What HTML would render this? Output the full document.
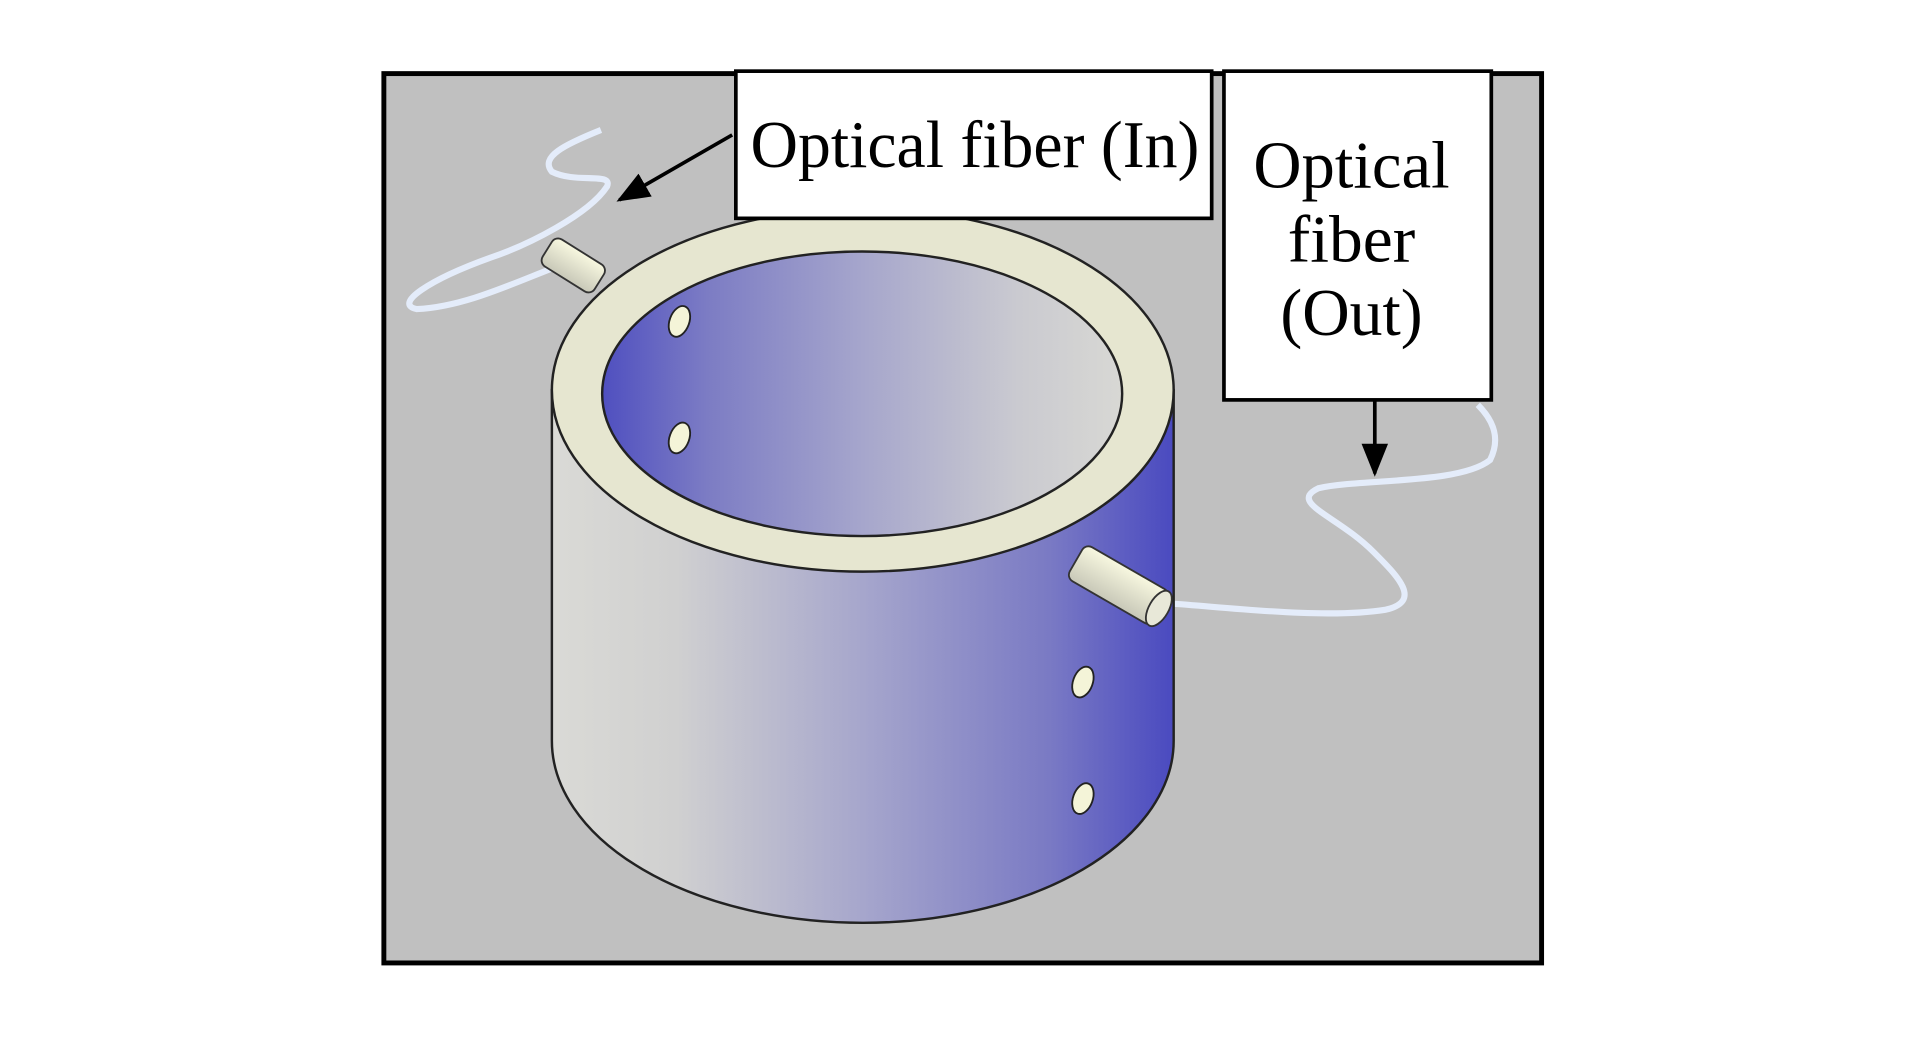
<!DOCTYPE html>
<html><head><meta charset="utf-8"><style>html,body{margin:0;padding:0;background:#fff}svg{display:block}</style></head>
<body>
<svg width="1923" height="1039" viewBox="0 0 1568 847" preserveAspectRatio="none" xmlns="http://www.w3.org/2000/svg">
<defs>
<linearGradient id="body" x1="450" y1="0" x2="957" y2="0" gradientUnits="userSpaceOnUse">
<stop offset="0" stop-color="#dadad6"/><stop offset="0.2" stop-color="#d0d0d0"/><stop offset="0.5" stop-color="#a6a6cc"/><stop offset="0.8" stop-color="#7a7ac4"/><stop offset="1" stop-color="#4a4ac0"/></linearGradient>
<linearGradient id="inner" x1="492" y1="0" x2="915" y2="0" gradientUnits="userSpaceOnUse">
<stop offset="0" stop-color="#5050c0"/><stop offset="0.2" stop-color="#7c7cc4"/><stop offset="0.5" stop-color="#a6a6cc"/><stop offset="0.8" stop-color="#cacad0"/><stop offset="1" stop-color="#d8d8d4"/></linearGradient>
<linearGradient id="pin" x1="0" y1="0" x2="0" y2="1"><stop offset="0" stop-color="#f8f8e0"/><stop offset="1" stop-color="#c8c8b8"/></linearGradient>
<marker id="ah" viewBox="0 0 10 10" refX="9" refY="5" markerWidth="9" markerHeight="9" orient="auto"><path d="M0,1 L10,5 L0,9 z" fill="#000"/></marker>
</defs>
<rect x="313" y="60" width="944" height="725" fill="#c0c0c0" stroke="#000" stroke-width="4"/>
<path d="M490,106 C460,118 440,128 450,140 C470,150 500,140 495,152 C480,175 430,200 400,210 C350,228 320,248 340,252 C380,250 420,230 460,215" fill="none" stroke="#e4ecfa" stroke-width="5"/>
<path d="M955,492 C1000,495 1080,505 1130,497 C1160,490 1140,470 1120,450 C1090,420 1050,410 1075,398 C1110,390 1190,395 1215,375 C1225,355 1215,340 1205,330" fill="none" stroke="#e4ecfa" stroke-width="5"/>
<path d="M450,318 L450,604 A253,148 0 0 0 957,604 L957,318 Z" fill="url(#body)" stroke="#222" stroke-width="2"/>
<ellipse cx="703.5" cy="318" rx="253.5" ry="148" fill="#e6e6d0" stroke="#222" stroke-width="2"/>
<ellipse cx="703" cy="321" rx="212" ry="116" fill="url(#inner)" stroke="#222" stroke-width="2"/>
<g transform="translate(470,218) rotate(32)"><rect x="-28" y="-13" width="50" height="26" rx="6" fill="url(#pin)" stroke="#333" stroke-width="1.5"/></g>
<g transform="translate(912,477) rotate(30)"><rect x="-40" y="-16" width="80" height="32" rx="6" fill="url(#pin)" stroke="#333" stroke-width="1.5"/><ellipse cx="38" cy="0" rx="8" ry="16" fill="#e8e8d8" stroke="#333" stroke-width="1.5"/></g>
<ellipse cx="554" cy="262" rx="8" ry="13" transform="rotate(20 554 262)" fill="#f4f4d8" stroke="#222" stroke-width="1.5"/>
<ellipse cx="554" cy="357" rx="8" ry="13" transform="rotate(20 554 357)" fill="#f4f4d8" stroke="#222" stroke-width="1.5"/>
<ellipse cx="883" cy="556" rx="8" ry="13" transform="rotate(20 883 556)" fill="#f4f4d8" stroke="#222" stroke-width="1.5"/>
<ellipse cx="883" cy="651" rx="8" ry="13" transform="rotate(20 883 651)" fill="#f4f4d8" stroke="#222" stroke-width="1.5"/>
<rect x="600" y="58" width="388" height="120" fill="#fff" stroke="#000" stroke-width="3"/>
<text x="795" y="136" text-anchor="middle" font-family="Liberation Serif, serif" font-size="54" textLength="366" lengthAdjust="spacingAndGlyphs">Optical fiber (In)</text>
<line x1="597" y1="110" x2="505" y2="163" stroke="#000" stroke-width="3" marker-end="url(#ah)"/>
<rect x="998" y="58" width="218" height="268" fill="#fff" stroke="#000" stroke-width="3"/>
<g font-family="Liberation Serif, serif" font-size="54" text-anchor="middle">
<text x="1102" y="153" textLength="160" lengthAdjust="spacingAndGlyphs">Optical</text><text x="1102" y="213" textLength="104" lengthAdjust="spacingAndGlyphs">fiber</text><text x="1102" y="273" textLength="116" lengthAdjust="spacingAndGlyphs">(Out)</text></g>
<line x1="1121" y1="327" x2="1121" y2="386" stroke="#000" stroke-width="3" marker-end="url(#ah)"/>
</svg>
</body></html>
